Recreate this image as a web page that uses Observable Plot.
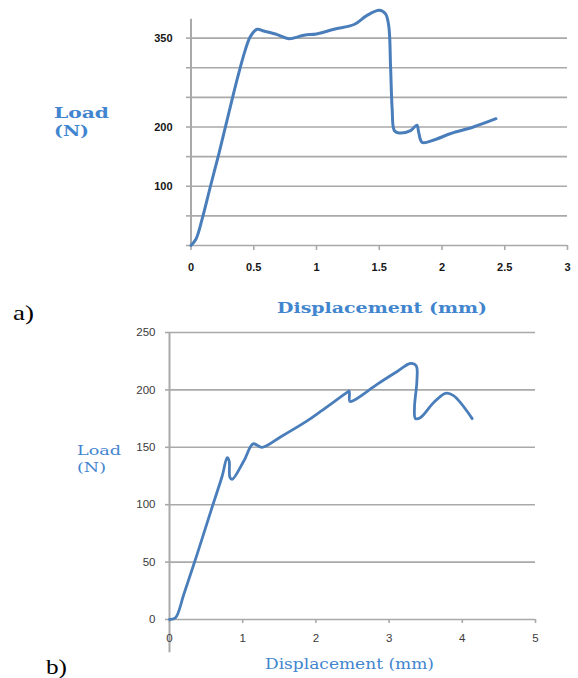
<!DOCTYPE html>
<html>
<head>
<meta charset="utf-8">
<script src="https://cdn.jsdelivr.net/npm/d3@7"></script>
<script src="https://cdn.jsdelivr.net/npm/@observablehq/plot@0.6"></script>
<style>
  html, body { margin: 0; padding: 0; background: #fff; }
  #wrap { position: relative; width: 578px; height: 678px; background: #fff; overflow: hidden; }
  #wrap > .chart { position: absolute; left: 0; }
  #labels { position: absolute; left: 0; top: 0; pointer-events: none; }
</style>
</head>
<body>
<div id="wrap"></div>
<script>
// ---------- chart a) data ----------
const dispA = [0, 0.04, 0.088, 0.155, 0.22, 0.288, 0.367, 0.434, 0.474, 0.527, 0.58, 0.687, 0.78, 0.9, 1.0, 1.14, 1.3, 1.40, 1.5, 1.55, 1.576, 1.59, 1.603, 1.62, 1.656, 1.75, 1.80, 1.815, 1.842, 1.935, 2.07, 2.25, 2.43];
const loadA = [0, 11, 44, 100, 153, 212, 280, 331, 353, 365, 362, 356, 349, 355, 357, 365, 373, 388, 397, 391, 370, 303, 230, 194, 190, 194, 203, 190, 174, 178, 189, 200, 214];
const gridA = [0, 50, 100, 150, 200, 250, 300, 350];
const yLabelsA = [100, 200, 350];
const xTicksA = [0, 0.5, 1, 1.5, 2, 2.5, 3];

// ---------- chart b) data ----------
const dispB = [0, 0.082, 0.196, 0.378, 0.583, 0.72, 0.788, 0.815, 0.824, 0.856, 1.015, 1.143, 1.266, 1.516, 1.88, 2.06, 2.43, 2.455, 2.463, 2.52, 2.84, 3.11, 3.29, 3.37, 3.38, 3.347, 3.36, 3.43, 3.61, 3.77, 3.88, 4.135];
const loadB = [0, 1.5, 22, 57, 98, 125, 141, 138, 124, 122, 138, 153, 150, 159, 173, 181, 198, 199, 190, 191, 205, 216, 223, 221, 208, 185, 175, 176, 189, 197, 195, 175];
const yTicksB = [0, 50, 100, 150, 200, 250];
const xTicksB = [0, 1, 2, 3, 4, 5];

const rowsA = dispA.map((d, i) => ({disp: d, load: loadA[i]}));
const rowsB = dispB.map((d, i) => ({disp: d, load: loadB[i]}));

const gridColor = "#a9a9a9";
const lineColor = "#4a7ebb";
const labelBlue = "#4285cf";

const plotA = Plot.plot({
  width: 578, height: 290,
  marginLeft: 190.5, marginRight: 11, marginTop: 8, marginBottom: 45,
  x: {domain: [0, 3]},
  y: {domain: [0, 400]},
  style: {fontFamily: "'Liberation Sans', Arial, sans-serif", fontSize: "11px", fontWeight: "bold", background: "transparent", overflow: "visible"},
  marks: [
    Plot.gridY(gridA, {stroke: gridColor, strokeOpacity: 1, strokeWidth: 1.6}),
    Plot.ruleX([0], {y1: 0, y2: 382, stroke: gridColor, strokeWidth: 2}),
    Plot.axisY(gridA, {tickSize: 4.5, tickPadding: 14, stroke: gridColor, strokeWidth: 1.6, fill: "#161616", fontSize: 11,
      tickFormat: d => yLabelsA.includes(d) ? String(d) : "", label: null}),
    Plot.axisX(xTicksA, {tickSize: 5, tickPadding: 13, stroke: gridColor, strokeWidth: 1.6, fill: "#161616", fontSize: 11,
      tickFormat: d => String(d), label: null}),
    Plot.line(rowsA, {x: "disp", y: "load", curve: "catmull-rom", stroke: lineColor, strokeWidth: 3})
  ]
});
plotA.classList.add("chart");
plotA.style.top = "0px";

const plotB = Plot.plot({
  width: 578, height: 358,
  marginLeft: 169, marginRight: 43, marginTop: 12, marginBottom: 59,
  x: {domain: [0, 5]},
  y: {domain: [0, 250]},
  style: {fontFamily: "'Liberation Sans', Arial, sans-serif", fontSize: "11.5px", background: "transparent", overflow: "visible"},
  marks: [
    Plot.gridY(yTicksB, {stroke: gridColor, strokeOpacity: 1, strokeWidth: 1.6}),
    Plot.ruleX([0], {y1: -29, y2: 250, stroke: gridColor, strokeWidth: 2}),
    Plot.axisY(yTicksB, {tickSize: 4, tickPadding: 10, stroke: gridColor, strokeWidth: 1.6, fill: "#3a3a3a", fontSize: 11.5,
      tickFormat: d => String(d), label: null}),
    Plot.axisX(xTicksB, {tickSize: 4, tickPadding: 10, stroke: gridColor, strokeWidth: 1.6, fill: "#3a3a3a", fontSize: 11.5,
      tickFormat: d => String(d), label: null}),
    Plot.line(rowsB, {x: "disp", y: "load", curve: "catmull-rom", stroke: lineColor, strokeWidth: 2.8})
  ]
});
plotB.classList.add("chart");
plotB.style.top = "320px";

const wrap = document.getElementById("wrap");
wrap.appendChild(plotA);
wrap.appendChild(plotB);

// ---------- text labels ----------
const labels = [
  {t: "Load", x: 54, y: 118, w: 55, size: 14, weight: "bold", fill: labelBlue, font: "'DejaVu Serif', serif"},
  {t: "(N)", x: 54, y: 136, w: 35, size: 14, weight: "bold", fill: labelBlue, font: "'DejaVu Serif', serif"},
  {t: "Displacement (mm)", x: 277, y: 313, w: 210, size: 15, weight: "bold", fill: labelBlue, font: "'DejaVu Serif', serif"},
  {t: "a)", x: 13, y: 320, w: 21, size: 21, weight: "normal", fill: "#000", font: "'Liberation Serif', serif"},
  {t: "Load", x: 77, y: 455, w: 44, size: 13.5, weight: "normal", fill: labelBlue, font: "'DejaVu Serif', serif"},
  {t: "(N)", x: 77, y: 472, w: 29, size: 13.5, weight: "normal", fill: labelBlue, font: "'DejaVu Serif', serif"},
  {t: "Displacement (mm)", x: 265, y: 669, w: 169, size: 14, weight: "normal", fill: labelBlue, font: "'DejaVu Serif', serif"},
  {t: "b)", x: 46, y: 674, w: 21, size: 21, weight: "normal", fill: "#000", font: "'Liberation Serif', serif"}
];
const svg = d3.select(wrap).append("svg").attr("id", "labels").attr("width", 578).attr("height", 678);
svg.selectAll("text").data(labels).join("text")
  .attr("x", d => d.x).attr("y", d => d.y)
  .attr("textLength", d => d.w).attr("lengthAdjust", "spacingAndGlyphs")
  .attr("font-family", d => d.font).attr("font-size", d => d.size)
  .attr("font-weight", d => d.weight).attr("fill", d => d.fill)
  .text(d => d.t);
</script>
</body>
</html>
